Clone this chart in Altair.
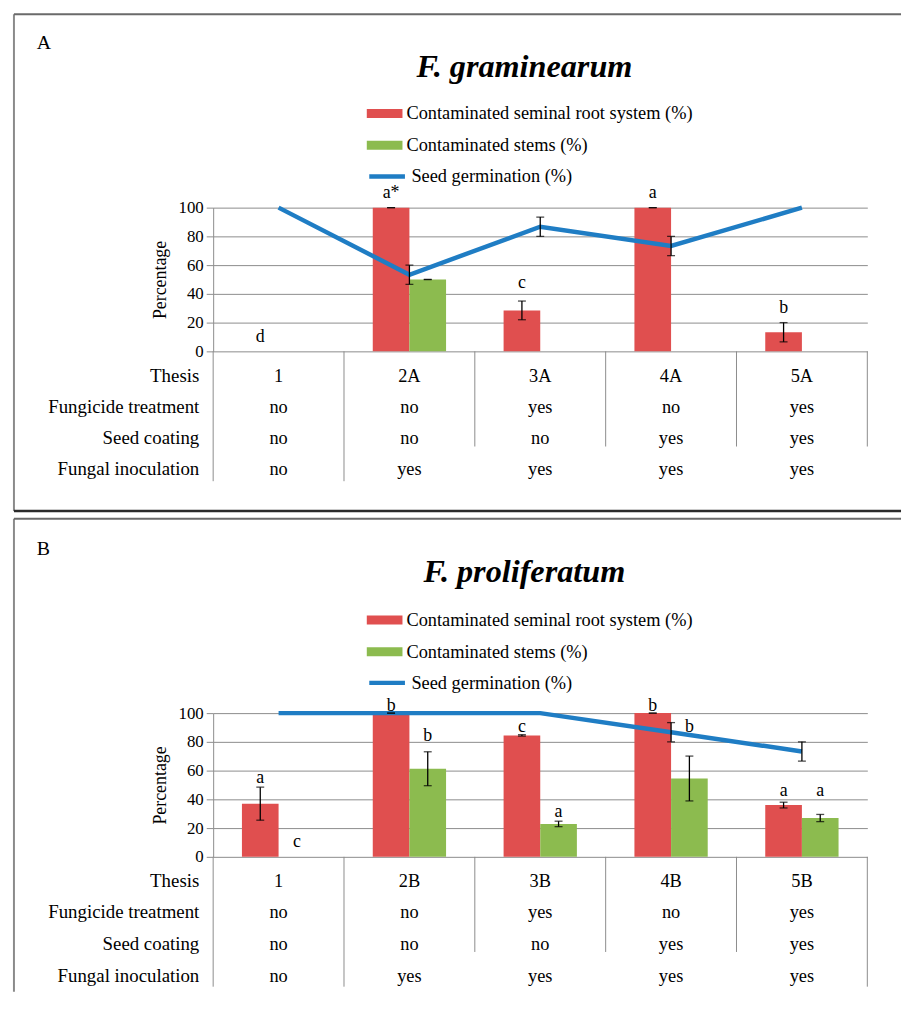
import altair as alt
import pandas as pd

FONT = "Liberation Serif"
SERIES = ["Contaminated seminal root system (%)", "Contaminated stems (%)", "Seed germination (%)"]
COLORS = ["#E04F4F", "#8CBB4F", "#1F7DC4"]
ROWS = ["Thesis", "Fungicide treatment", "Seed coating", "Fungal inoculation"]
FUNGICIDE = ["no", "no", "yes", "no", "yes"]
COATING = ["no", "no", "no", "yes", "yes"]
INOCULATION = ["no", "yes", "yes", "yes", "yes"]
Y_TICKS = [0, 20, 40, 60, 80, 100]

# ---- Panel A : F. graminearum ----
A_TAG = "A"
A_TITLE = "F. graminearum"
A_THESIS = ["1", "2A", "3A", "4A", "5A"]
A_ROOT = [0, 100, 28.5, 100, 13.3]
A_ROOT_ERR = [None, 0, 6.5, 0, 6.7]
A_STEM = [0, 50, 0, 0, 0]
A_STEM_ERR = [None, 0, None, None, None]
A_GERM = [100, 53.3, 86.7, 73.3, 100]
A_GERM_ERR = [None, 6.7, 6.7, 6.7, None]
A_ROOT_LETTER = ["d", "a*", "c", "a", "b"]
A_ROOT_LETTER_Y = [10, 110, 47.5, 110, 30]
A_STEM_LETTER = [None, None, None, None, None]
A_STEM_LETTER_Y = [None, None, None, None, None]
A_LONG_SEPARATORS = [True, True, False, False, False, False]

# ---- Panel B : F. proliferatum ----
B_TAG = "B"
B_TITLE = "F. proliferatum"
B_THESIS = ["1", "2B", "3B", "4B", "5B"]
B_ROOT = [37, 100, 84.5, 100, 36]
B_ROOT_ERR = [11.5, 0, 0.5, 0, 2]
B_STEM = [0, 61.3, 22.9, 54.5, 27]
B_STEM_ERR = [None, 11.8, 1.9, 15.6, 2.5]
B_GERM = [100, 100, 100, 86.7, 73.3]
B_GERM_ERR = [None, None, None, 6.7, 6.7]
B_ROOT_LETTER = ["a", "b", "c", "b", "a"]
B_ROOT_LETTER_Y = [54.5, 105, 90, 105, 46]
B_STEM_LETTER = ["c", "b", "a", "b", "a"]
B_STEM_LETTER_Y = [10, 84, 31, 90, 46]
B_LONG_SEPARATORS = [True, True, False, False, False, True]

BAR_PATH = "M-1.5,-0.375H1.5V0.375H-1.5Z"
LINE_PATH = "M-1.5,0H1.5"
GRID = "#8c8c8c"


def one():
    return pd.DataFrame({"k": [0]})


def legend_props(y):
    return dict(title=None, orient="none", legendX=161, legendY=y, direction="vertical",
                labelFont=FONT, labelFontSize=18.5, labelColor="black", labelLimit=600,
                labelOffset=10, symbolSize=576, rowPadding=10, padding=0)


def panel(tag, title, thesis, root, root_err, stem, stem_err, germ, germ_err,
          root_letter, root_letter_y, stem_letter, stem_letter_y, long_sep,
          frame_top, frame_bottom, bottom_line, table_range, leg_y):
    n = len(thesis)
    bars = pd.DataFrame({
        "thesis": thesis + thesis,
        "series": [SERIES[0]] * n + [SERIES[1]] * n,
        "value": root + stem,
    })
    err_rows = []
    for s, vals, errs in ((SERIES[0], root, root_err), (SERIES[1], stem, stem_err)):
        for t, v, e in zip(thesis, vals, errs):
            if e is not None:
                err_rows.append({"thesis": t, "series": s, "lo": v - e, "hi": v + e})
    errs_df = pd.DataFrame(err_rows)
    line_df = pd.DataFrame({"thesis": thesis, "value": germ, "series": [SERIES[2]] * n})
    gerr = pd.DataFrame([{"thesis": t, "lo": v - e, "hi": v + e}
                         for t, v, e in zip(thesis, germ, germ_err) if e is not None])
    let_rows = []
    for s, labs, lys in ((SERIES[0], root_letter, root_letter_y), (SERIES[1], stem_letter, stem_letter_y)):
        for t, l, yv in zip(thesis, labs, lys):
            if l is not None:
                let_rows.append({"thesis": t, "series": s, "label": l, "ly": yv})
    letters = pd.DataFrame(let_rows)

    table_rows = []
    for row, vals in zip(ROWS, [thesis, FUNGICIDE, COATING, INOCULATION]):
        for t, v in zip(thesis, vals):
            table_rows.append({"thesis": t, "row": row, "txt": v})
    table_df = pd.DataFrame(table_rows)

    xs = alt.Scale(domain=thesis, paddingInner=0, paddingOuter=0)
    X = alt.X("thesis:N", scale=xs, axis=None)
    XO = alt.XOffset("series:N", scale=alt.Scale(domain=SERIES[:2], paddingInner=0, paddingOuter=0.785))
    ys = alt.Scale(domain=[0, 100], nice=False)

    yaxis = alt.Axis(values=Y_TICKS, tickCount=6, grid=True, gridColor=GRID, gridWidth=1,
                     domainColor=GRID, tickColor=GRID, tickSize=7, labelOverlap=False,
                     labelFont=FONT, labelFontSize=17, labelColor="black", labelPadding=3,
                     title="Percentage", titleFont=FONT, titleFontSize=18,
                     titleFontWeight="normal", titleColor="black", titlePadding=9)

    def Y(field):
        return alt.Y(field, scale=ys, axis=yaxis)

    bar = alt.Chart(bars).mark_bar().encode(
        x=X, xOffset=XO, y=Y("value:Q"),
        color=alt.Color("series:N", scale=alt.Scale(domain=SERIES[:2], range=COLORS[:2]),
                        legend=alt.Legend(symbolType=BAR_PATH, symbolStrokeWidth=0,
                                          **legend_props(leg_y))),
    )
    line = alt.Chart(line_df).mark_line(strokeWidth=4.5).encode(
        x=X, y=Y("value:Q"),
        stroke=alt.Stroke("series:N", scale=alt.Scale(domain=[SERIES[2]], range=[COLORS[2]]),
                          legend=alt.Legend(symbolType=LINE_PATH, symbolStrokeWidth=4.5,
                                            **legend_props(leg_y + 61))))

    layers = [bar, line]
    for df, with_off in ((errs_df, True), (gerr, False)):
        if len(df) == 0:
            continue
        enc = {"x": X}
        if with_off:
            enc["xOffset"] = XO
        layers.append(alt.Chart(df).mark_rule(color="black", strokeWidth=1.3).encode(
            y=Y("lo:Q"), y2="hi:Q", **enc))
        layers.append(alt.Chart(df).mark_tick(color="black", thickness=1.3, size=8, orient="horizontal").encode(
            y=Y("lo:Q"), **enc))
        layers.append(alt.Chart(df).mark_tick(color="black", thickness=1.3, size=8, orient="horizontal").encode(
            y=Y("hi:Q"), **enc))
    layers.append(alt.Chart(letters).mark_text(font=FONT, fontSize=18, color="black", baseline="middle").encode(
        x=X, xOffset=XO, y=Y("ly:Q"), text="label:N"))
    plot = alt.layer(*layers)

    rs = alt.Scale(domain=ROWS, range=table_range, padding=0)
    tvals = alt.Chart(table_df).mark_text(font=FONT, fontSize=18.5, color="black", baseline="middle").encode(
        x=X, y=alt.Y("row:N", scale=rs, axis=None), text="txt:N")
    tlabels = alt.Chart(pd.DataFrame({"row": ROWS})).mark_text(
        font=FONT, fontSize=19, color="black", align="right", baseline="middle").encode(
        x=alt.value(-14), y=alt.Y("row:N", scale=rs, axis=None), text="row:N")
    table_layers = [tvals, tlabels]

    sep_df = pd.DataFrame([{"thesis": thesis[min(i, n - 1)], "pos": 0 if i < n else 1,
                            "long": lg} for i, lg in enumerate(long_sep)])
    for pos in (0, 1):
        for lg, end in ((True, 276), (False, 241)):
            sub = sep_df[(sep_df["pos"] == pos) & (sep_df["long"] == lg)]
            if len(sub) == 0:
                continue
            table_layers.append(alt.Chart(sub).mark_rule(color=GRID, strokeWidth=1).encode(
                x=alt.X("thesis:N", scale=xs, axis=None, bandPosition=pos),
                y=alt.value(145), y2=alt.value(end)))
    table = alt.layer(*table_layers)

    decor = [
        alt.Chart(one()).mark_rule(color="#8a8a8a", strokeWidth=2).encode(
            x=alt.value(-201), y=alt.value(frame_top), y2=alt.value(frame_bottom)),
        alt.Chart(one()).mark_rule(color="#6a6a6a", strokeWidth=2).encode(
            x=alt.value(-201), x2=alt.value(694), y=alt.value(frame_top)),
        alt.Chart(one()).mark_text(text=tag, font=FONT, fontSize=20, color="black",
                                   align="left", baseline="alphabetic").encode(
            x=alt.value(-178), y=alt.value(-160)),
        alt.Chart(one()).mark_text(text=title, font=FONT, fontSize=32.5, fontStyle="italic",
                                   fontWeight="bold", color="black", align="center",
                                   baseline="alphabetic").encode(
            x=alt.value(314), y=alt.value(-132)),
    ]
    if bottom_line:
        decor.append(alt.Chart(one()).mark_rule(color="#2a2a2a", strokeWidth=2.5).encode(
            x=alt.value(-201), x2=alt.value(694), y=alt.value(frame_bottom)))

    return alt.layer(plot, table, *decor).resolve_scale(y="independent").properties(width=660, height=145)


pA = panel(A_TAG, A_TITLE, A_THESIS, A_ROOT, A_ROOT_ERR, A_STEM, A_STEM_ERR, A_GERM, A_GERM_ERR,
           A_ROOT_LETTER, A_ROOT_LETTER_Y, A_STEM_LETTER, A_STEM_LETTER_Y, A_LONG_SEPARATORS,
           -195, 306, True, [170, 264], -107)
pB = panel(B_TAG, B_TITLE, B_THESIS, B_ROOT, B_ROOT_ERR, B_STEM, B_STEM_ERR, B_GERM, B_GERM_ERR,
           B_ROOT_LETTER, B_ROOT_LETTER_Y, B_STEM_LETTER, B_STEM_LETTER_Y, B_LONG_SEPARATORS,
           -196, 281, False, [169, 265], -106)

chart = alt.vconcat(pA, pB, spacing=5).resolve_scale(
    x="independent", y="independent", color="independent", stroke="independent",
    xOffset="independent"
).resolve_legend(color="independent", stroke="independent").properties(
    padding={"left": 4, "top": 1, "right": 0, "bottom": 0}
).configure_view(strokeWidth=0)

chart.save("out.html", embed_options={"renderer": "svg", "actions": False})
